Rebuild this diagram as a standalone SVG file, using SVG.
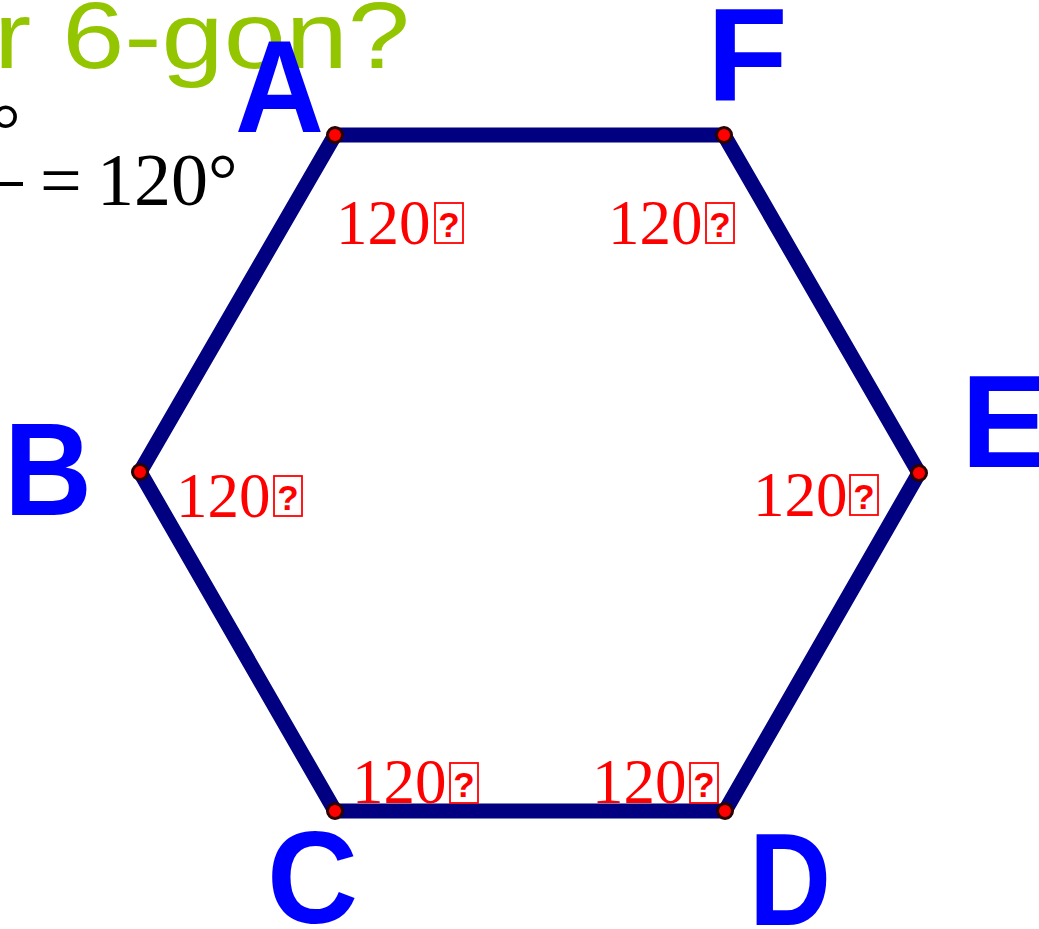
<svg xmlns="http://www.w3.org/2000/svg" width="1039" height="929" viewBox="0 0 1039 929">
<style>
.title{font-family:"Liberation Sans",Arial,sans-serif;font-size:94px;fill:#93c500}
.math{font-family:"Liberation Serif","Times New Roman",serif;font-size:74px;fill:#000}
.lbl{font-family:"Liberation Sans",Arial,sans-serif;font-weight:bold;font-size:132px;fill:#0000ff}
.ang{font-family:"Liberation Serif","Times New Roman",serif;font-size:63px;fill:#ff0000}
.q{font-family:"Liberation Sans",Arial,sans-serif;font-weight:bold;font-size:35px;fill:#ff0000;text-anchor:middle}
.box{fill:none;stroke:#ff0000;stroke-width:1.8}
.edge{stroke:#000080;stroke-width:15;stroke-linecap:butt;fill:none}
.pt{fill:#ff0000;stroke:#2a0000;stroke-width:3}
</style>
<rect width="1039" height="929" fill="#fff"/>
<g id="title">
<text class="title" x="-6" y="68" textLength="416" lengthAdjust="spacingAndGlyphs">r 6-gon?</text>
</g>
<g id="formula">
<text class="math" x="-9" y="155">°</text>
<rect x="0" y="182" width="23" height="4" fill="#000"/>
<text class="math" x="40" y="205">=</text>
<text class="math" x="97" y="205">120°</text>
</g>
<g id="connectors">
<polygon class="edge" points="335,135 724,135 919,473 725,811 335,811 140,472" stroke-linejoin="miter"/>
</g>
<g id="node-A">
<circle class="pt" cx="335" cy="135" r="7.5"/>
<text class="lbl" x="235" y="132" textLength="89" lengthAdjust="spacingAndGlyphs">A</text>
<text class="ang" x="336" y="244">120</text>
<rect class="box" x="435" y="203" width="28" height="40"/>
<text class="q" x="449" y="237">?</text>
</g>
<g id="node-F">
<circle class="pt" cx="724" cy="135" r="7.5"/>
<text class="lbl" x="707" y="100">F</text>
<text class="ang" x="608" y="244">120</text>
<rect class="box" x="706" y="203" width="28" height="40"/>
<text class="q" x="720" y="237">?</text>
</g>
<g id="node-E">
<circle class="pt" cx="919" cy="473" r="7.5"/>
<text class="lbl" x="961" y="467">E</text>
<text class="ang" x="753" y="516">120</text>
<rect class="box" x="850" y="475" width="28" height="40"/>
<text class="q" x="864" y="509">?</text>
</g>
<g id="node-D">
<circle class="pt" cx="725" cy="811" r="7.5"/>
<text class="lbl" x="749" y="925" textLength="82" lengthAdjust="spacingAndGlyphs">D</text>
<text class="ang" x="592" y="803">120</text>
<rect class="box" x="690" y="763" width="28" height="40"/>
<text class="q" x="704" y="797">?</text>
</g>
<g id="node-C">
<circle class="pt" cx="335" cy="811" r="7.5"/>
<text class="lbl" x="267" y="923" textLength="91" lengthAdjust="spacingAndGlyphs">C</text>
<text class="ang" x="352" y="803">120</text>
<rect class="box" x="450" y="763" width="28" height="40"/>
<text class="q" x="464" y="797">?</text>
</g>
<g id="node-B">
<circle class="pt" cx="140" cy="472" r="7.5"/>
<text class="lbl" x="4" y="515" textLength="88" lengthAdjust="spacingAndGlyphs">B</text>
<text class="ang" x="176" y="517">120</text>
<rect class="box" x="274" y="476" width="28" height="40"/>
<text class="q" x="288" y="510">?</text>
</g>
</svg>
